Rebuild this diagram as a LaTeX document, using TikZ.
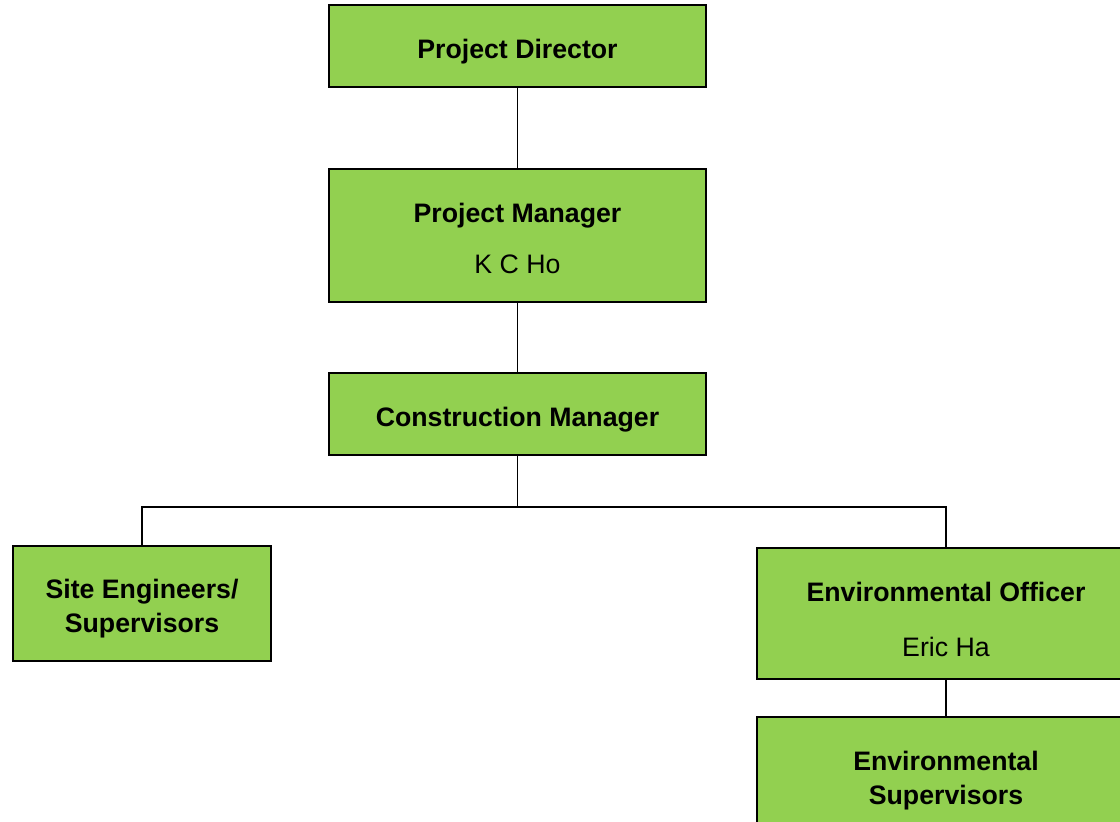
\documentclass[tikz,border=0pt]{standalone}
\usepackage{fontspec}
\setmainfont{Liberation Sans}
\usepackage{tikz}
\usetikzlibrary{positioning}
\definecolor{greeni}{RGB}{146,208,80}
\newcommand{\topgap}[1]{\rule{0pt}{#1}}
\tikzset{
      myblock/.style 2 args={
        draw=black,
        fill=greeni,
        line width=1.6pt,
        align=center,
        font=\fontsize{26.7}{34}\selectfont,
        minimum width=#1,
        minimum height=#2,
        inner sep=0pt,
        execute at begin node={\rule{0pt}{30pt}}
      },
      myline/.style={
        draw=black,
        line width=1.1pt
      },
    }
\begin{document}
\begin{tikzpicture}[x=1pt,y=-1pt]

            \path[use as bounding box,clip] (0,0) rectangle (1120,822);

            %Direccio
            \node[myblock={377pt}{82pt}] (director) at (517.5,46)
              {\bfseries Project Director};
            \node[myblock={377pt}{133pt}] (manager) at (517.5,235.5)
              {\topgap{26pt}\bfseries Project Manager\\[17pt] K C Ho};
            \node[myblock={377pt}{82pt}] (construction) at (517.5,414)
              {\bfseries Construction Manager};

            %Obra
            \node[myblock={258pt}{115pt}] (site) at (142,603.5)
              {\topgap{30pt}\bfseries Site Engineers/\\ \bfseries Supervisors};

            %Medi ambient
            \node[myblock={378pt}{131pt}] (officer) at (946,613.5)
              {\topgap{32pt}\bfseries Environmental Officer\\[21pt] Eric Ha};
            \node[myblock={378pt}{117pt}] (supervisors) at (946,775.5)
              {\topgap{30pt}\bfseries Environmental\\ \bfseries Supervisors};

            \coordinate (split) at (517.5,507);

            \draw[myline] (director) -- (manager);
            \draw[myline] (manager) -- (construction);
            \draw[myline] (construction) -- (split);
            \draw[myline] (site.north) |- (split) -| (officer.north);
            \draw[myline] (officer) -- (supervisors);

          \end{tikzpicture}
\end{document}
